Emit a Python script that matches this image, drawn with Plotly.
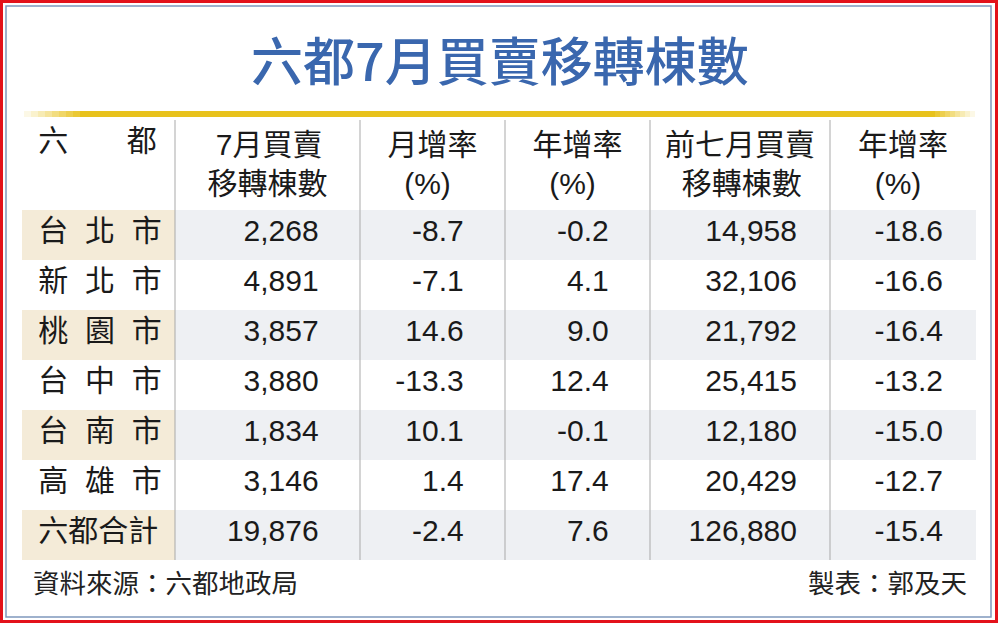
import plotly.graph_objects as go

# 六都7月買賣移轉棟數
cities = ["台北市", "新北市", "桃園市", "台中市", "台南市", "高雄市", "六都合計"]
july_units = [2268, 4891, 3857, 3880, 1834, 3146, 19876]
july_mom = [-8.7, -7.1, 14.6, -13.3, 10.1, 1.4, -2.4]
july_yoy = [-0.2, 4.1, 9.0, 12.4, -0.1, 17.4, 7.6]
ytd_units = [14958, 32106, 21792, 25415, 12180, 20429, 126880]
ytd_yoy = [-18.6, -16.6, -16.4, -13.2, -15.0, -12.7, -15.4]
headers = [("六", "都"), ("7月買賣", "移轉棟數"), ("月增率", "(%)"), ("年增率", "(%)"),
           ("前七月買賣", "移轉棟數"), ("年增率", "(%)")]

W, H = 1000, 623
FONT = "Liberation Sans, Noto Sans CJK TC"
NB = "\u00a0"
col_edges = [22, 175, 360, 505, 650, 830, 976]
tab_top, tab_bot = 120, 560


def px(x):
    return x / W


def py(y):
    return 1 - y / H


def spaced(name):
    return (NB * 2).join(name) if len(name) == 3 else name


# right-aligned numbers with some room on the right
def pad(vals, fmt, n):
    return [fmt.format(v) + NB * n for v in vals]


# plotly keeps multi-line header text left-aligned inside its block,
# so the shorter line gets some leading spaces to look centred
def head(a, b):
    la = sum(1.0 if ord(c) > 255 else 0.55 for c in a)
    lb = sum(1.0 if ord(c) > 255 else 0.55 for c in b)
    diff = (la - lb) * 30 / 2 / 8.3
    n = int(round(abs(diff)))
    if diff > 0:
        b = NB * n + b
    else:
        a = NB * n + a
    return a + "<br>" + b


header_text = [NB + headers[0][0] + NB * 7 + headers[0][1]] + [head(a, b) for a, b in headers[1:]]

cols = [
    [NB + spaced(c) for c in cities],
    pad(july_units, "{:,}", 4),
    pad(july_mom, "{:.1f}", 4),
    pad(july_yoy, "{:.1f}", 4),
    pad(ytd_units, "{:,}", 3),
    pad(ytd_yoy, "{:.1f}", 3),
]

beige, grey = "#f4ebd8", "#eef0f3"
fills = []
for j in range(len(cols)):
    shade = beige if j == 0 else grey
    fills.append([shade if i % 2 == 0 else "white" for i in range(len(cities))])

widths = [col_edges[k + 1] - col_edges[k] for k in range(len(cols))]

fig = go.Figure(go.Table(
    domain=dict(x=[px(col_edges[0]), px(col_edges[-1])], y=[py(tab_bot), py(tab_top)]),
    columnwidth=widths,
    header=dict(
        values=header_text,
        align=["left"] + ["center"] * 5,
        height=90,
        fill_color="white",
        line=dict(width=0),
        font=dict(family=FONT, size=30, color="#1a1a1a"),
    ),
    cells=dict(
        values=cols,
        align=["left"] + ["right"] * 5,
        height=50,
        fill_color=fills,
        line=dict(width=0),
        font=dict(family=FONT, size=30, color="#1a1a1a"),
    ),
))

shapes = []
# column separators
for x in col_edges[1:-1]:
    shapes.append(dict(type="line", xref="paper", yref="paper",
                       x0=px(x), x1=px(x), y0=py(tab_top), y1=py(tab_bot),
                       line=dict(color="#a9a9a9", width=1)))

# gold rule under the title, fading at the ends
gold = "232,194,28"
shapes.append(dict(type="rect", xref="paper", yref="paper", x0=px(80), x1=px(935),
                   y0=py(117), y1=py(111), line=dict(width=0), fillcolor=f"rgb({gold})"))
for k in range(8):
    a = (k + 1) / 9
    shapes.append(dict(type="rect", xref="paper", yref="paper",
                       x0=px(24 + k * 7), x1=px(31 + k * 7), y0=py(117), y1=py(111),
                       line=dict(width=0), fillcolor=f"rgba({gold},{a:.2f})"))
    shapes.append(dict(type="rect", xref="paper", yref="paper",
                       x0=px(975 - (k + 1) * 5), x1=px(975 - k * 5), y0=py(117), y1=py(111),
                       line=dict(width=0), fillcolor=f"rgba({gold},{a:.2f})"))

# frames
shapes.append(dict(type="rect", xref="paper", yref="paper", x0=px(6), x1=px(991),
                   y0=py(617), y1=py(6), line=dict(color="#7f98bd", width=1.5)))
shapes.append(dict(type="rect", xref="paper", yref="paper", x0=px(1.5), x1=px(996.5),
                   y0=py(621.5), y1=py(1.5), line=dict(color="#e3121b", width=3)))

annotations = [
    dict(text="六都7月買賣移轉棟數", x=0.5, y=py(59), xref="paper", yref="paper",
         showarrow=False, xanchor="center", yanchor="middle",
         font=dict(family="Noto Sans CJK TC", size=52, color="#3a67ae", weight=500)),
    dict(text="資料來源：六都地政局", x=px(31), y=py(581), xref="paper", yref="paper",
         showarrow=False, xanchor="left", yanchor="middle",
         font=dict(family="Noto Sans CJK TC", size=26.5, color="#222222")),
    dict(text="製表：郭及天", x=px(969), y=py(581), xref="paper", yref="paper",
         showarrow=False, xanchor="right", yanchor="middle",
         font=dict(family="Noto Sans CJK TC", size=26.5, color="#222222")),
]

fig.update_layout(
    width=W, height=H,
    margin=dict(l=0, r=0, t=0, b=0),
    paper_bgcolor="white",
    shapes=shapes,
    annotations=annotations,
)

fig.write_html("out.html", post_script="document.body.style.margin='0';",
               config={"displayModeBar": False})
